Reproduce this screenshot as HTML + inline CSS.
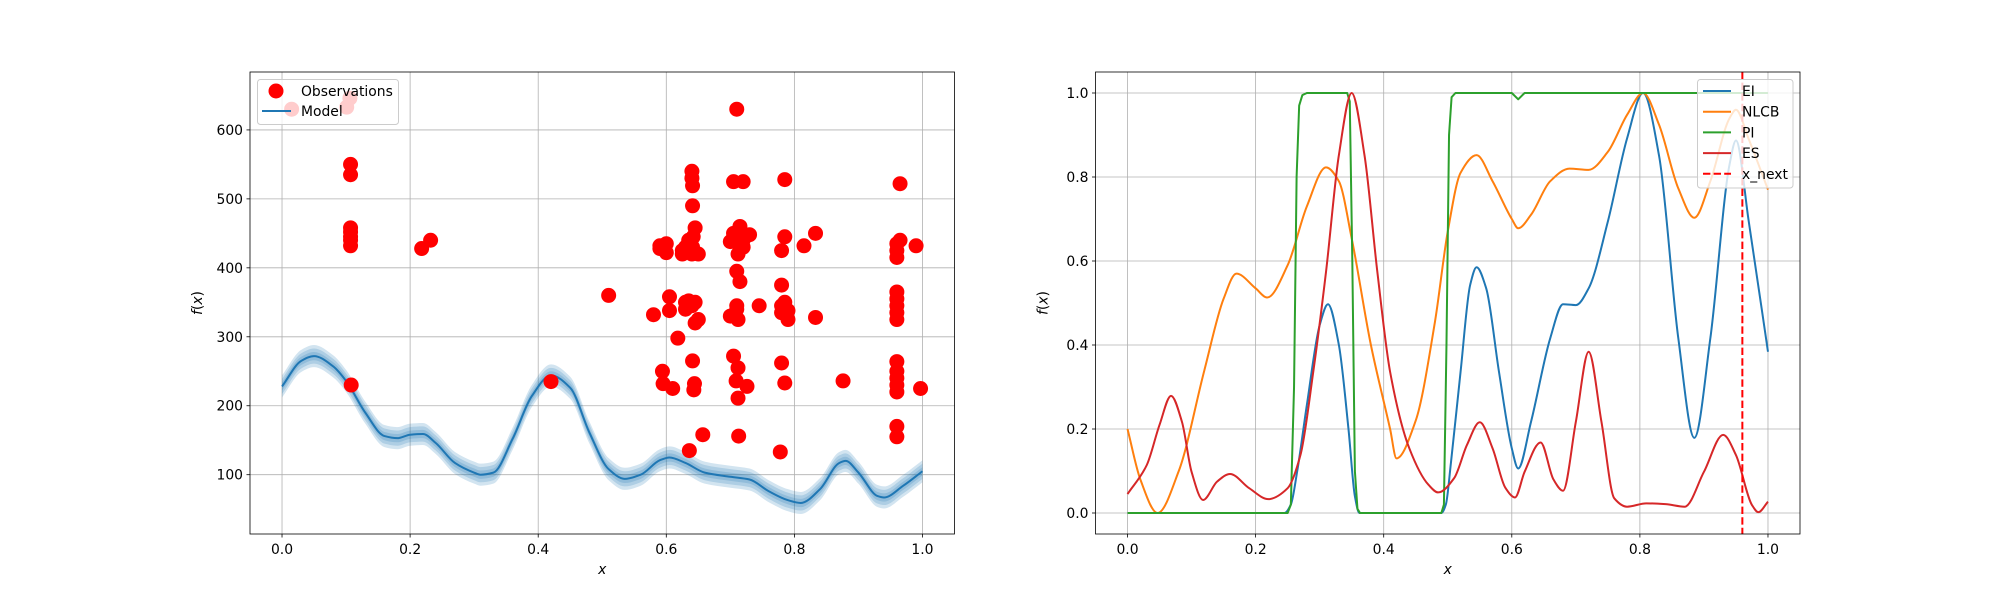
<!DOCTYPE html>
<html><head><meta charset="utf-8"><style>
html,body{margin:0;padding:0;background:#fff}
svg{display:block;font-family:"DejaVu Sans","Liberation Sans",sans-serif}
</style></head><body>
<svg id="fig" width="2000" height="600" viewBox="0 0 2000 600">
<rect width="2000" height="600" fill="#fff"/>
<g id="left"></g>
<g id="right"></g>
</svg>
<script>
// ---- Left chart data ----
const modelX = [0,0.03,0.05,0.08,0.1,0.13,0.16,0.18,0.2,0.22,0.24,0.27,0.3,0.31,0.33,0.36,0.39,0.42,0.45,0.48,0.51,0.535,0.56,0.59,0.605,0.63,0.66,0.7,0.73,0.76,0.79,0.81,0.84,0.87,0.88,0.9,0.93,0.94,0.97,1.0];
const modelY = [228,265,272,257,236,190,156,153,158,159,146,117,103,100,103,152,214,244,226,161,108,94,100,121,125,117,103,97,93,76,63,59,79,117,120,103,69,67,84,105];
const obsX = [0.015,0.101,0.106,0.107,0.107,0.107,0.107,0.107,0.107,0.107,0.108,0.218,0.232,0.42,0.51,0.58,0.59,0.59,0.594,0.595,0.6,0.6,0.605,0.605,0.61,0.618,0.625,0.625,0.63,0.63,0.63,0.635,0.635,0.636,0.64,0.64,0.641,0.641,0.642,0.641,0.645,0.64,0.64,0.641,0.644,0.643,0.645,0.645,0.65,0.65,0.657,0.7,0.7,0.705,0.705,0.705,0.712,0.71,0.71,0.712,0.71,0.71,0.709,0.712,0.713,0.71,0.715,0.715,0.715,0.712,0.72,0.72,0.72,0.726,0.73,0.745,0.778,0.78,0.78,0.78,0.78,0.78,0.785,0.785,0.785,0.785,0.79,0.79,0.815,0.833,0.833,0.876,0.96,0.96,0.96,0.96,0.96,0.96,0.96,0.96,0.96,0.96,0.96,0.96,0.96,0.96,0.96,0.965,0.965,0.99,0.997];
const obsY = [630,633,646,550,535,458,452,445,440,432,230,428,440,235,360,332,432,428,250,232,435,422,358,338,225,298,425,420,430,350,340,440,352,135,540,530,519,490,445,430,458,420,345,265,232,223,350,320,420,325,158,438,330,450,525,272,255,630,440,420,395,345,236,211,156,340,460,430,380,325,525,440,430,228,448,345,133,425,375,345,335,262,528,445,350,233,338,325,432,450,328,236,435,425,415,365,355,345,335,264,250,230,220,170,155,240,325,522,440,432,225];
const leftYTicks = [100,200,300,400,500,600];
const xTicks = [0.0,0.2,0.4,0.6,0.8,1.0];
const xTickLabels = ["0.0","0.2","0.4","0.6","0.8","1.0"];
// ---- Right chart data ----
const nlcbX = [0,0.02,0.047,0.08,0.12,0.15,0.17,0.2,0.218,0.25,0.28,0.31,0.33,0.35,0.38,0.41,0.42,0.45,0.48,0.5,0.52,0.545,0.57,0.6,0.61,0.63,0.66,0.69,0.72,0.75,0.78,0.805,0.83,0.86,0.885,0.91,0.94,0.95,0.97,1.0];
const nlcbY = [0.2,0.08,0.0,0.1,0.34,0.51,0.57,0.535,0.513,0.59,0.73,0.823,0.79,0.654,0.4,0.2,0.13,0.22,0.455,0.67,0.81,0.852,0.79,0.70,0.678,0.71,0.79,0.82,0.817,0.86,0.948,1.0,0.924,0.773,0.703,0.79,0.94,0.96,0.89,0.77];
const eiX = [0,0.1,0.2,0.245,0.255,0.265,0.28,0.3,0.313,0.33,0.345,0.355,0.362,0.4,0.45,0.49,0.497,0.505,0.52,0.535,0.545,0.56,0.58,0.6,0.61,0.63,0.66,0.68,0.7,0.72,0.75,0.78,0.805,0.83,0.86,0.885,0.91,0.94,0.95,0.97,1.0];
const eiY = [0,0,0,0,0.02,0.1,0.257,0.447,0.497,0.4,0.2,0.04,0,0,0,0,0.02,0.12,0.336,0.543,0.585,0.535,0.336,0.154,0.106,0.217,0.416,0.497,0.495,0.535,0.694,0.892,1.0,0.85,0.416,0.179,0.416,0.83,0.887,0.694,0.384];
const esX = [0,0.03,0.05,0.068,0.085,0.1,0.118,0.14,0.16,0.19,0.22,0.25,0.27,0.29,0.31,0.33,0.35,0.37,0.39,0.41,0.44,0.47,0.485,0.51,0.53,0.55,0.57,0.59,0.605,0.62,0.645,0.665,0.68,0.7,0.72,0.74,0.76,0.78,0.81,0.84,0.87,0.9,0.93,0.95,0.975,0.985,1.0];
const esY = [0.045,0.114,0.21,0.279,0.217,0.098,0.031,0.075,0.093,0.059,0.033,0.059,0.138,0.336,0.575,0.852,1.0,0.852,0.575,0.336,0.154,0.067,0.049,0.083,0.162,0.216,0.154,0.06,0.037,0.098,0.168,0.08,0.053,0.217,0.384,0.217,0.035,0.015,0.023,0.021,0.015,0.098,0.186,0.138,0.019,0.002,0.027];
const piX = [0,0.25,0.255,0.26,0.264,0.268,0.273,0.28,0.343,0.347,0.351,0.355,0.359,0.363,0.49,0.494,0.498,0.502,0.506,0.512,0.6,0.61,0.62,1.0];
const piY = [0,0,0.02,0.3,0.8,0.97,0.995,1,1,0.98,0.6,0.1,0.01,0,0,0.02,0.4,0.9,0.99,1,1,0.985,1,1];
const xNext = [0.96];
const rightYTicks = [0.0,0.2,0.4,0.6,0.8,1.0];
const rightYTickLabels = ["0.0","0.2","0.4","0.6","0.8","1.0"];

const NS = "http://www.w3.org/2000/svg";
function mk(parent, tag, attrs, text){
  const e = document.createElementNS(NS, tag);
  for (const k in attrs) e.setAttribute(k, attrs[k]);
  if (text !== undefined) e.textContent = text;
  parent.appendChild(e);
  return e;
}
const TOP = 72, BOT = 534;
const L = {x0:250, x1:954.5, xmin:-0.05, xmax:1.05, ymin:14, ymax:684};
const R = {x0:1095.5, x1:1800, xmin:-0.05, xmax:1.05, ymin:-0.05, ymax:1.05};
function sx(ax, v){ return ax.x0 + (v - ax.xmin) / (ax.xmax - ax.xmin) * (ax.x1 - ax.x0); }
function sy(ax, v){ return BOT - (v - ax.ymin) / (ax.ymax - ax.ymin) * (BOT - TOP); }
// monotone cubic (Fritsch-Carlson) in pixel space; pts sorted by x (or reverse)
function smoothPath(pts, cont){
  const n = pts.length;
  const d = [], m = new Array(n);
  for (let i = 0; i < n-1; i++) d.push((pts[i+1][1]-pts[i][1])/(pts[i+1][0]-pts[i][0]));
  m[0] = d[0]; m[n-1] = d[n-2];
  for (let i = 1; i < n-1; i++){
    if (d[i-1]*d[i] <= 0) m[i] = 0;
    else {
      const h0 = pts[i][0]-pts[i-1][0], h1 = pts[i+1][0]-pts[i][0];
      const w1 = 2*h1 + h0, w2 = h1 + 2*h0;
      m[i] = (w1 + w2) / (w1/d[i-1] + w2/d[i]);
    }
  }
  let s = (cont ? " L" : "M") + pts[0][0].toFixed(2) + "," + pts[0][1].toFixed(2);
  for (let i = 0; i < n-1; i++){
    const h = (pts[i+1][0]-pts[i][0])/3;
    s += " C" + (pts[i][0]+h).toFixed(2)+","+(pts[i][1]+m[i]*h).toFixed(2)+" "+(pts[i+1][0]-h).toFixed(2)+","+(pts[i+1][1]-m[i+1]*h).toFixed(2)+" "+pts[i+1][0].toFixed(2)+","+pts[i+1][1].toFixed(2);
  }
  return s;
}
function linePath(pts){ return "M" + pts.map(p => p[0].toFixed(2)+","+p[1].toFixed(2)).join(" L"); }

function axesFrame(g, ax, yTicks, yLabels, name){
  const grid = mk(g, "g", {});
  
  
  xTicks.forEach((t, i) => {
    const x = sx(ax, t);
    mk(grid, "line", {x1:x, x2:x, y1:TOP, y2:BOT, stroke:"#b0b0b0", "stroke-width":0.8});
    mk(g, "line", {x1:x, x2:x, y1:BOT, y2:BOT+3.5, stroke:"#000", "stroke-width":0.8});
    const t1 = mk(g, "text", {x:x, y:BOT+20, "font-size":"13.9px", "text-anchor":"middle", fill:"#000"}, xTickLabels[i]);
    
    
  });
  yTicks.forEach((t, i) => {
    const y = sy(ax, t);
    mk(grid, "line", {x1:ax.x0, x2:ax.x1, y1:y, y2:y, stroke:"#b0b0b0", "stroke-width":0.8});
    mk(g, "line", {x1:ax.x0-3.5, x2:ax.x0, y1:y, y2:y, stroke:"#000", "stroke-width":0.8});
    const t2 = mk(g, "text", {x:ax.x0-7, y:y+5, "font-size":"13.9px", "text-anchor":"end", fill:"#000"}, yLabels[i]);
    
    
  });
  const xl = mk(g, "text", {x:(ax.x0+ax.x1)/2, y:574, "font-size":"13.9px", "font-style":"italic", "text-anchor":"middle", fill:"#000"}, "x");
  
  
  const yx = ax.x0 - 48, yy = (TOP+BOT)/2;
  const yl = mk(g, "text", {x:yx, y:yy, "font-size":"13.9px", "text-anchor":"middle", fill:"#000", transform:"rotate(-90 "+yx+" "+yy+")"});
  
  
  mk(yl, "tspan", {"font-style":"italic"}, "f");
  mk(yl, "tspan", {}, "(");
  mk(yl, "tspan", {"font-style":"italic"}, "x");
  mk(yl, "tspan", {}, ")");
}
function spines(g, ax){
  const s = mk(g, "rect", {x:ax.x0, y:TOP, width:ax.x1-ax.x0, height:BOT-TOP, fill:"none", stroke:"#000", "stroke-width":0.8});
  
  
}

// ---- Left chart ----
const gl = document.getElementById("left");
axesFrame(gl, L, leftYTicks, leftYTicks.map(String), "left");
const clipL = mk(gl, "clipPath", {id:"clipL"});
mk(clipL, "rect", {x:L.x0, y:TOP, width:L.x1-L.x0, height:BOT-TOP});
const plotL = mk(gl, "g", {"clip-path":"url(#clipL)"});
[16,11,6].forEach(w => {
  const up = modelX.map((x,i) => [sx(L,x), sy(L, modelY[i]+w)]);
  const dn = modelX.map((x,i) => [sx(L,x), sy(L, modelY[i]-w)]).reverse();
  const b = mk(plotL, "path", {d: smoothPath(up) + smoothPath(dn, true) + " Z", fill:"#1f77b4", "fill-opacity":0.2, stroke:"none"});
  
  
});
const mline = mk(plotL, "path", {d: smoothPath(modelX.map((x,i)=>[sx(L,x), sy(L,modelY[i])])), fill:"none", stroke:"#1f77b4", "stroke-width":2});


obsX.forEach((x,i) => {
  const c = mk(plotL, "circle", {cx:sx(L,x), cy:sy(L,obsY[i]), r:7.5, fill:"#ff0000"});
  
  
});
spines(gl, L);
// left legend
const lg = mk(gl, "g", {});


mk(lg, "rect", {x:257.5, y:79.5, width:141, height:45, rx:3, fill:"#fff", "fill-opacity":0.8, stroke:"#cccccc", "stroke-width":1});
const le1 = mk(lg, "g", {});


mk(le1, "circle", {cx:276, cy:91, r:7.5, fill:"#ff0000"});
mk(le1, "text", {x:301, y:96, "font-size":"13.9px", fill:"#000"}, "Observations");
const le2 = mk(lg, "g", {});


mk(le2, "line", {x1:262, x2:291, y1:111, y2:111, stroke:"#1f77b4", "stroke-width":2});
mk(le2, "text", {x:301, y:116, "font-size":"13.9px", fill:"#000"}, "Model");

// ---- Right chart ----
const gr = document.getElementById("right");
axesFrame(gr, R, rightYTicks, rightYTickLabels, "right");
const clipR = mk(gr, "clipPath", {id:"clipR"});
mk(clipR, "rect", {x:R.x0, y:TOP, width:R.x1-R.x0, height:BOT-TOP});
const plotR = mk(gr, "g", {"clip-path":"url(#clipR)"});
function series(xs, ys, color, name, smooth){
  const pts = xs.map((x,i)=>[sx(R,x), sy(R,ys[i])]);
  const p = mk(plotR, "path", {d: smooth ? smoothPath(pts) : linePath(pts), fill:"none", stroke:color, "stroke-width":2, "stroke-linejoin":"round"});
  
  
}
series(eiX, eiY, "#1f77b4", "ei-line", true);
series(nlcbX, nlcbY, "#ff7f0e", "nlcb-line", true);
series(piX, piY, "#2ca02c", "pi-line", false);
series(esX, esY, "#d62728", "es-line", true);
xNext.forEach(v => {
  const xn = mk(plotR, "line", {x1:sx(R,v), x2:sx(R,v), y1:TOP, y2:BOT, stroke:"#ff0000", "stroke-width":2, "stroke-dasharray":"7.4,3.2"});
  
  
});
spines(gr, R);
const rg = mk(gr, "g", {});


mk(rg, "rect", {x:1697.5, y:79.5, width:95.5, height:108.5, rx:3, fill:"#fff", "fill-opacity":0.8, stroke:"#cccccc", "stroke-width":1});
const legNames = ["EI","NLCB","PI","ES","x_next"];
const legColors = ["#1f77b4","#ff7f0e","#2ca02c","#d62728","#ff0000"];
legNames.forEach((n,i) => {
  const y = 91 + i*20.7;
  const e = mk(rg, "g", {});
  
  
  const at = {x1:1703, x2:1731, y1:y, y2:y, stroke:legColors[i], "stroke-width":2};
  if (n === "x_next") at["stroke-dasharray"] = "7.4,3.2";
  mk(e, "line", at);
  mk(e, "text", {x:1742, y:y+5, "font-size":"13.9px", fill:"#000"}, n);
});
</script>
</body></html>
